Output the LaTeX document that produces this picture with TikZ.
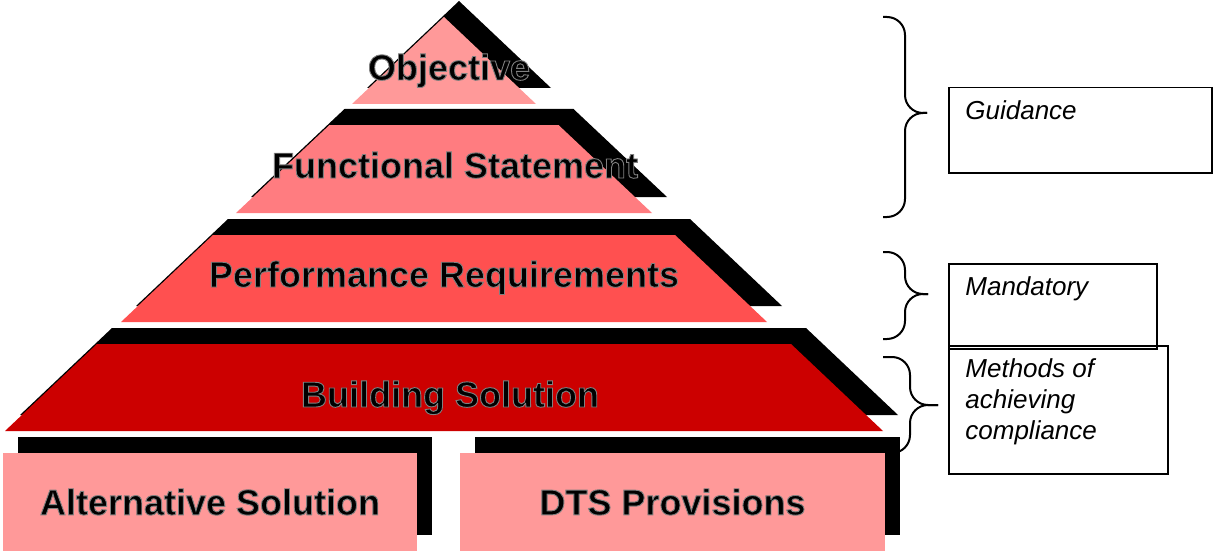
\documentclass[tikz,border=0pt]{standalone}
\usepackage{fontspec}
\setmainfont{Liberation Sans}
\usepackage{xcolor}
\usetikzlibrary{positioning,shadows}
\definecolor{objpink}{HTML}{FF9999}
\definecolor{funcpink}{HTML}{FF7C80}
\definecolor{perfred}{HTML}{FF5050}
\definecolor{buildred}{HTML}{CC0000}
\newcommand\grayedge[1]{\special{pdf:literal direct 2 Tr 0.5 G 0.45 w}#1\special{pdf:literal direct 0 Tr 0 G}}

\begin{document}
\begin{tikzpicture}[x=0.5pt,y=-0.5pt,
		blackshadow/.style={drop shadow={shadow xshift=7.5pt,shadow yshift=8pt,fill=black,opacity=1}},
		tiertext/.style={font=\fontsize{18}{21.6}\selectfont\bfseries,anchor=base,inner sep=0pt},
		solbox/.style={fill=objpink,blackshadow,minimum height=49pt,inner sep=0pt,
			font=\fontsize{18}{21.6}\selectfont\bfseries},
		labelbox/.style={draw,line width=0.75pt,anchor=north west,inner sep=0pt},
		labeltext/.style={font=\fontsize{13}{15.5}\selectfont\itshape,anchor=north west,inner sep=0pt,align=left},
		bracket/.style={line width=1pt,rounded corners=9pt}]
		\useasboundingbox (0,0) rectangle (1214,551);
		% braces
		\draw[bracket] (883,17) -| (905,113) -- (927,113);
		\draw[bracket] (883,217) -| (905,113) -- (927,113);
		\draw[bracket] (883,252) -| (905,294) -- (928,294);
		\draw[bracket] (883,339) -| (905,294) -- (928,294);
		\draw[bracket] (883,357) -| (910,405) -- (938,405);
		\draw[bracket] (893,453) -| (910,405) -- (938,405);
		% pyramid
		\fill[objpink,blackshadow] (444,17) -- (536,104) -- (352,104) -- cycle;
		\fill[funcpink,blackshadow] (329.5,125) -- (558.5,125) -- (652,213) -- (236,213) -- cycle;
		\fill[perfred,blackshadow] (213,235) -- (675,235) -- (767,322) -- (121,322) -- cycle;
		\fill[buildred,blackshadow] (97,344) -- (791,344) -- (883,431) -- (5,431) -- cycle;
		\node[tiertext] (objective) at (449,80) {\grayedge{Objective}};
		\node[tiertext] (functional) at (455,178) {\grayedge{Functional Statement}};
		\node[tiertext] (performance) at (444,287) {\grayedge{Performance Requirements}};
		\node[tiertext] (building) at (450,407) {\grayedge{Building Solution}};
		% solutions
		\node[solbox,minimum width=207pt] (alternative) at (210,502) {\grayedge{Alternative Solution}};
		\node[solbox,minimum width=212.5pt] (dts) at (672.5,502) {\grayedge{DTS Provisions}};
		% labels
		\node[labelbox,minimum width=131.5pt,minimum height=42.5pt] (guidance) at (948,87) {};
		\node[labelbox,minimum width=104pt,minimum height=42.5pt] (mandatory) at (948,263) {};
		\node[labelbox,minimum width=109.5pt,minimum height=64pt] (methods) at (948,345) {};
		\node[labeltext] (guidancetext) at (965,100) {Guidance};
		\node[labeltext] (mandatorytext) at (965,276) {Mandatory};
		\node[labeltext] (methodstext) at (965,358) {Methods of\\achieving\\compliance};
	\end{tikzpicture}
\end{document}
